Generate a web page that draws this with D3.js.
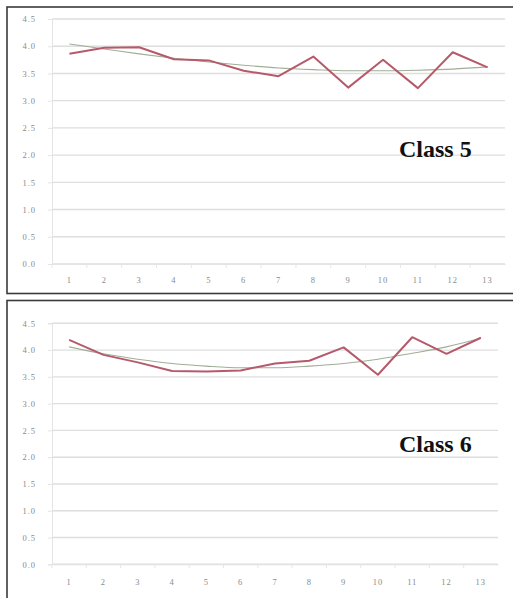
<!DOCTYPE html>
<html>
<head>
<meta charset="utf-8">
<script src="https://cdn.jsdelivr.net/npm/d3@7"></script>
<style>
  html, body { margin: 0; padding: 0; background: #fff; }
  svg { display: block; }
</style>
</head>
<body>
<script>
// ---- data ----
const categories = ["1","2","3","4","5","6","7","8","9","10","11","12","13"];
const yTicks = [0, 0.5, 1.0, 1.5, 2.0, 2.5, 3.0, 3.5, 4.0, 4.5];
const class5Values = [3.86, 3.97, 3.98, 3.76, 3.74, 3.55, 3.45, 3.81, 3.24, 3.75, 3.23, 3.89, 3.61];
const class5Trend  = [4.04, 3.95, 3.86, 3.78, 3.71, 3.65, 3.60, 3.57, 3.55, 3.55, 3.56, 3.58, 3.62];
const class6Values = [4.19, 3.91, 3.77, 3.61, 3.60, 3.62, 3.75, 3.80, 4.05, 3.54, 4.24, 3.93, 4.23];
const class6Trend  = [4.06, 3.93, 3.83, 3.75, 3.70, 3.67, 3.67, 3.70, 3.75, 3.83, 3.94, 4.06, 4.22];
const panelTitles = ["Class 5", "Class 6"];

const W = 513, H = 598;
const svg = d3.select("body").append("svg").attr("width", W).attr("height", H);

const panels = [
  { title: panelTitles[0], values: class5Values, trend: class5Trend,
    box: [7, 7, 520, 293.5], x0: 52, x1: 505, yBottom: 264, yTop: 19, xLabelY: 280, titleY: 157 },
  { title: panelTitles[1], values: class6Values, trend: class6Trend,
    box: [7, 300.5, 520, 610], x0: 52, x1: 498, yBottom: 564.3, yTop: 323.3, xLabelY: 582, titleY: 452 }
];

panels.forEach(p => {
  const g = svg.append("g");
  // frame
  g.append("rect")
    .attr("x", p.box[0]).attr("y", p.box[1])
    .attr("width", p.box[2] - p.box[0]).attr("height", p.box[3] - p.box[1])
    .attr("fill", "#fff").attr("stroke", "#3a3a3a").attr("stroke-width", 1.6);

  const x = d3.scaleBand().domain(categories).range([p.x0, p.x1]);
  const y = d3.scaleLinear().domain([0, 4.5]).range([p.yBottom, p.yTop]);

  // gridlines
  g.append("g").selectAll("line").data(yTicks).join("line")
    .attr("x1", p.x0).attr("x2", p.x1)
    .attr("y1", d => y(d)).attr("y2", d => y(d))
    .attr("stroke", "#dedede").attr("stroke-width", 1.4);

  // y axis
  const yAxis = d3.axisLeft(y).tickValues(yTicks).tickFormat(d3.format(".1f")).tickSize(4).tickPadding(12);
  const ya = g.append("g").attr("transform", `translate(${p.x0},0)`).call(yAxis);
  ya.select(".domain").attr("stroke", "#e4e4e4");
  ya.selectAll(".tick line").attr("stroke", "#e4e4e4");
  ya.selectAll("text").attr("font-family", "Liberation Serif, serif").attr("font-size", 8.5)
    .attr("fill", "#8a8a8a").attr("letter-spacing", 1);

  // x axis
  const xAxis = d3.axisBottom(x).tickSize(0).tickPadding(0);
  const xa = g.append("g").attr("transform", `translate(0,${p.yBottom})`).call(xAxis);
  xa.select(".domain").attr("stroke", "#e4e4e4");
  xa.selectAll("text").attr("font-family", "Liberation Serif, serif").attr("font-size", 8.5)
    .attr("fill", "#8a8a8a").attr("letter-spacing", 1)
    .attr("dy", null).attr("y", p.xLabelY - p.yBottom + 3);
  // category boundary ticks
  g.append("g").selectAll("line").data(categories).join("line")
    .attr("x1", d => x(d)).attr("x2", d => x(d))
    .attr("y1", p.yBottom).attr("y2", p.yBottom + 4)
    .attr("stroke", "#e6e6e6").attr("stroke-width", 1);

  const cx = (d, i) => x(categories[i]) + x.bandwidth() / 2;

  // trend line
  g.append("path").datum(p.trend)
    .attr("fill", "none").attr("stroke", "#9fae96").attr("stroke-width", 1.1)
    .attr("d", d3.line().x(cx).y(d => y(d)).curve(d3.curveMonotoneX));

  // series line
  g.append("path").datum(p.values)
    .attr("fill", "none").attr("stroke", "#b65a6b").attr("stroke-width", 2)
    .attr("stroke-linejoin", "round")
    .attr("d", d3.line().x(cx).y(d => y(d)));

  // title
  g.append("text")
    .attr("x", 399).attr("y", p.titleY)
    .attr("font-family", "Liberation Serif, serif").attr("font-weight", "bold")
    .attr("font-size", 24).attr("fill", "#111")
    .text(p.title);
});
</script>
</body>
</html>
